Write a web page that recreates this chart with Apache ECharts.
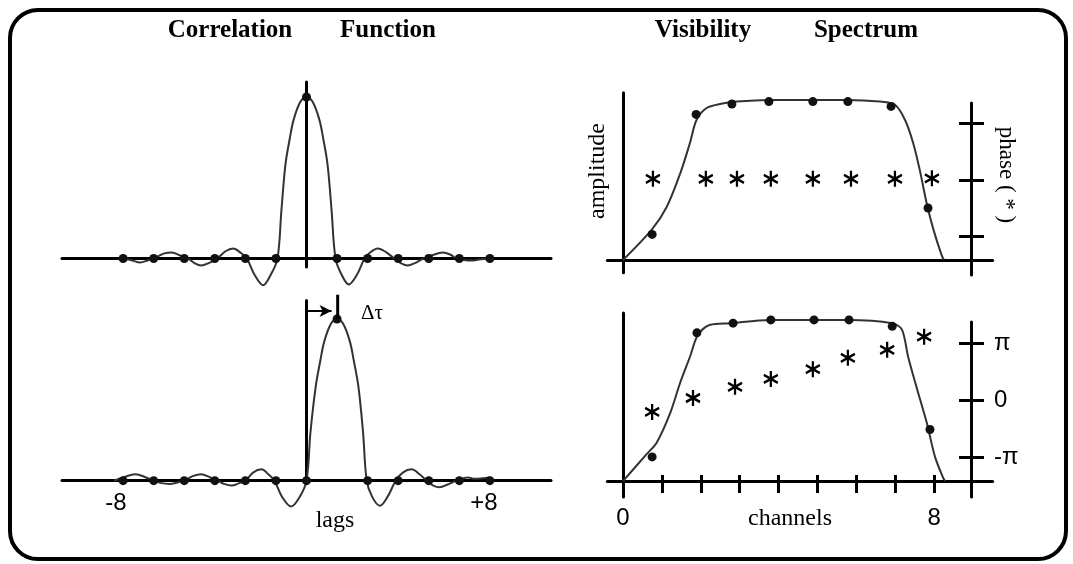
<!DOCTYPE html>
<html><head><meta charset="utf-8">
<script src="https://cdn.jsdelivr.net/npm/echarts@6/dist/echarts.min.js"></script>
<style>html,body{margin:0;padding:0;background:#fff}#c{width:1073px;height:564px}</style>
</head><body><div id="c"></div>
<script>
// ---- Correlation function (top: centred, bottom: delayed by one lag) ----
const topLags = [-6.0,-5.7,-5.45,-5.2,-4.9,-4.65,-4.4,-4.15,-3.87,-3.65,-3.45,-3.2,-2.92,-2.65,-2.4,-2.15,-1.95,-1.7,-1.42,-1.17,-0.95,-0.82,-0.69,-0.55,-0.42,-0.2,0,0.2,0.42,0.55,0.69,0.82,0.95,1.15,1.38,1.65,1.9,2.1,2.33,2.6,2.87,3.1,3.31,3.55,3.83,4.1,4.46,4.7,4.92,5.2,5.45,5.7,6.0];
const topCorr = [0,-0.012,-0.025,-0.012,0.01,0.032,0.037,0.02,0,-0.03,-0.043,-0.028,0,0.045,0.062,0.035,0,-0.1,-0.165,-0.1,0,0.3,0.58,0.74,0.86,0.97,1,0.97,0.86,0.74,0.58,0.3,0,-0.1,-0.16,-0.1,0,0.04,0.062,0.04,0,-0.03,-0.043,-0.028,0,0.02,0.037,0.025,0,-0.01,-0.012,-0.005,0];
const botLags = [-6.3,-6.0,-5.6,-5.25,-5.0,-4.75,-4.5,-4.2,-3.95,-3.7,-3.45,-3.15,-2.9,-2.7,-2.45,-2.2,-2.0,-1.75,-1.47,-1.25,-1.05,-0.8,-0.5,-0.22,0,0.13,0.3,0.45,0.58,0.8,1.0,1.2,1.42,1.55,1.7,1.85,1.97,2.15,2.4,2.65,2.92,3.15,3.44,3.7,3.93,4.15,4.36,4.6,4.9,5.05,5.28,5.5,5.75,6.0];
const botCorr = [0,0.02,0.04,0.02,0,-0.015,-0.02,-0.01,0.005,0.03,0.04,0.02,0,-0.02,-0.03,-0.015,0,0.05,0.07,0.04,0,-0.1,-0.16,-0.1,0,0.3,0.58,0.74,0.86,0.97,1.0,0.97,0.86,0.74,0.58,0.3,0,-0.1,-0.155,-0.1,0,0.05,0.07,0.04,0,-0.03,-0.04,-0.025,0,0.01,0.02,0.012,0.015,0.02];
const sampleLags = [-6,-5,-4,-3,-2,-1,0,1,2,3,4,5,6];
const topSamples = [0,0,0,0,0,0,1,0,0,0,0,0,0];
const botSamples = [0,0,0,0,0,0,0,1,0,0,0,0,0];
const delayArrowLags = [0, 0.82];
const delayArrowLevel = 1.05;
const delayTickLag = 1.02;
const delayTickRange = [1.0, 1.15];
const lagEndLabels = ['-8', '+8'];

// ---- Visibility spectrum (amplitude and phase in units of pi) ----
const ampChTop = [0,0.74,1.12,1.47,1.72,1.89,2.15,2.49,2.92,3.78,4.88,5.75,6.6,6.99,7.25,7.46,7.63,7.81,7.98,8.19,8.25];
const ampTop   = [0,0.19,0.33,0.54,0.73,0.875,0.95,0.975,0.99,1.0,1.0,1.0,0.99,0.97,0.875,0.73,0.56,0.35,0.19,0.03,0];
const ampChBot = [0,0.62,0.87,1.21,1.47,1.72,1.93,2.24,2.75,3.78,4.94,5.76,6.92,7.17,7.33,7.56,7.81,8.02,8.23,8.28];
const ampBot   = [0,0.17,0.24,0.42,0.61,0.77,0.91,0.97,0.98,1.0,1.0,1.0,0.98,0.94,0.77,0.57,0.36,0.15,0.02,0];
const dotChTop  = [0.75,1.88,2.80,3.75,4.88,5.78,6.89,7.84];
const dotAmpTop = [0.16,0.91,0.975,0.99,0.99,0.99,0.96,0.325];
const dotChBot  = [0.75,1.90,2.83,3.80,4.91,5.81,6.92,7.89];
const dotAmpBot = [0.15,0.92,0.98,1.0,1.0,1.0,0.96,0.32];
const starChTop    = [0.77,2.13,2.93,3.80,4.88,5.86,6.99,7.94];
const phaseTop     = [0.02,0.02,0.02,0.02,0.02,0.02,0.02,0.03];
const starChBot    = [0.75,1.80,2.88,3.80,4.88,5.78,6.79,7.74];
const phaseBot     = [-0.21,0.035,0.23,0.37,0.54,0.74,0.88,1.11];
const channelTicks = [1,2,3,4,5,6,7,8];
const channelLabelValues = [0, 8];
const phaseTicks = [-1, 0, 1];
const phaseTickLabels = ['-π', '0', 'π'];

const zip = (a, b) => a.map((v, i) => [v, b[i]]);
const ink = '#000';
const curveStyle = {color: '#333', width: 2};
const dotStyle = {color: '#111', opacity: 1};
const starStyle = {color: 'rgba(0,0,0,0)', borderColor: '#000', borderWidth: 2.4, opacity: 1};
const starPath = 'path://M0,-10L0,10M-8.66,-5L8.66,5M-8.66,5L8.66,-5';
const noDeco = {axisTick: {show: false}, axisLabel: {show: false}, splitLine: {show: false}};
const heavy = {color: ink, width: 3};

const chart = echarts.init(document.getElementById('c'), null, {renderer: 'canvas'});
const serif = '"Liberation Serif", "DejaVu Serif", serif';
const sans = '"Liberation Sans", Arial, sans-serif';
const txt = (text, x, y, font, rot) => ({type: 'text', x, y, rotation: rot || 0, silent: true,
  style: {text, font, fill: ink, align: 'center', verticalAlign: 'middle'}});

chart.setOption({
  animation: false,
  backgroundColor: '#fff',
  grid: [
    {left: 62, top: 82, width: 489, height: 185.1},
    {left: 62, top: 300.4, width: 489, height: 181.1},
    {left: 607.4, top: 92.8, width: 385.2, height: 180},
    {left: 607.4, top: 313, width: 385.2, height: 184},
    {left: 971, top: 103, width: 1, height: 172},
    {left: 971, top: 322, width: 1, height: 175}
  ],
  xAxis: [
    {gridIndex: 0, type: 'value', min: -8, max: 8, axisLine: {show: true, onZero: true, lineStyle: heavy}, ...noDeco},
    {gridIndex: 1, type: 'value', min: -8, max: 8, axisLine: {show: true, onZero: true, lineStyle: heavy}, ...noDeco},
    {gridIndex: 2, type: 'value', min: -0.4, max: 9.5, axisLine: {show: true, onZero: true, lineStyle: heavy}, ...noDeco},
    {gridIndex: 3, type: 'value', min: -0.4, max: 9.5, position: 'bottom',
      axisLine: {show: true, onZero: true, lineStyle: heavy},
      axisTick: {show: true, customValues: channelTicks, length: 12, lineStyle: heavy},
      axisLabel: {show: true, customValues: channelLabelValues, margin: 9, fontSize: 24, fontFamily: sans, color: ink},
      splitLine: {show: false}},
    {gridIndex: 3, type: 'value', min: -0.4, max: 9.5, position: 'top', offset: -168,
      axisLine: {show: false, onZero: false},
      axisTick: {show: true, customValues: channelTicks, length: 6, lineStyle: heavy},
      axisLabel: {show: false}, splitLine: {show: false}},
    {gridIndex: 4, type: 'value', min: 0, max: 1, show: false},
    {gridIndex: 5, type: 'value', min: 0, max: 1, show: false}
  ],
  yAxis: [
    {gridIndex: 0, type: 'value', min: -0.053, max: 1.093, axisLine: {show: true, onZero: true, lineStyle: heavy}, ...noDeco},
    {gridIndex: 1, type: 'value', min: -0.005, max: 1.115, axisLine: {show: true, onZero: true, lineStyle: heavy}, ...noDeco},
    {gridIndex: 2, type: 'value', min: -0.08, max: 1.045, axisLine: {show: true, onZero: true, lineStyle: heavy}, ...noDeco},
    {gridIndex: 2, type: 'value', min: -1.642, max: 1.543, position: 'right', show: false},
    {gridIndex: 3, type: 'value', min: -0.099, max: 1.043, axisLine: {show: true, onZero: true, lineStyle: heavy}, ...noDeco},
    {gridIndex: 3, type: 'value', min: -1.7006, max: 1.525, position: 'right', show: false},
    {gridIndex: 4, type: 'value', min: -1.681, max: 1.363, position: 'left',
      axisLine: {show: true, onZero: false, lineStyle: heavy},
      axisTick: {show: true, customValues: phaseTicks, length: 12, lineStyle: heavy},
      axisLabel: {show: false}, splitLine: {show: false}},
    {gridIndex: 4, type: 'value', min: -1.681, max: 1.363, position: 'right',
      axisLine: {show: false, onZero: false},
      axisTick: {show: true, customValues: phaseTicks, length: 12, lineStyle: heavy},
      axisLabel: {show: false}, splitLine: {show: false}},
    {gridIndex: 5, type: 'value', min: -1.70, max: 1.368, position: 'left',
      axisLine: {show: true, onZero: false, lineStyle: heavy},
      axisTick: {show: true, customValues: phaseTicks, length: 12, lineStyle: heavy},
      axisLabel: {show: false}, splitLine: {show: false}},
    {gridIndex: 5, type: 'value', min: -1.70, max: 1.368, position: 'right',
      axisLine: {show: false, onZero: false},
      axisTick: {show: true, customValues: phaseTicks, length: 12, lineStyle: heavy},
      axisLabel: {show: true, customValues: phaseTicks, margin: 22, fontSize: 24, fontFamily: sans, color: ink, align: 'left',
        formatter: v => phaseTickLabels[phaseTicks.indexOf(Math.round(v))]},
      splitLine: {show: false}}
  ],
  series: [
    {type: 'line', xAxisIndex: 0, yAxisIndex: 0, data: zip(topLags, topCorr), smooth: 0.35, showSymbol: false, clip: false, lineStyle: curveStyle, z: 2},
    {type: 'scatter', xAxisIndex: 0, yAxisIndex: 0, data: zip(sampleLags, topSamples), symbolSize: 9, itemStyle: dotStyle, clip: false, z: 3},
    {type: 'line', xAxisIndex: 1, yAxisIndex: 1, data: zip(botLags, botCorr), smooth: 0.35, showSymbol: false, clip: false, lineStyle: curveStyle, z: 2},
    {type: 'scatter', xAxisIndex: 1, yAxisIndex: 1, data: zip(sampleLags, botSamples), symbolSize: 9, itemStyle: dotStyle, clip: false, z: 3},
    {type: 'line', xAxisIndex: 1, yAxisIndex: 1, data: delayTickRange.map(v => [delayTickLag, v]), showSymbol: false, clip: false,
      lineStyle: {color: ink, width: 3}, z: 4,
      markLine: {silent: true, symbol: ['none', 'arrow'], symbolSize: [9, 12], label: {show: false},
        lineStyle: {color: ink, width: 2, type: 'solid'},
        data: [[{coord: [delayArrowLags[0], delayArrowLevel]}, {coord: [delayArrowLags[1], delayArrowLevel]}]]}},
    {type: 'line', xAxisIndex: 2, yAxisIndex: 2, data: zip(ampChTop, ampTop), smooth: 0.3, showSymbol: false, clip: false, lineStyle: curveStyle, z: 2},
    {type: 'scatter', xAxisIndex: 2, yAxisIndex: 2, data: zip(dotChTop, dotAmpTop), symbolSize: 9, itemStyle: dotStyle, z: 3},
    {type: 'scatter', xAxisIndex: 2, yAxisIndex: 3, data: zip(starChTop, phaseTop), symbol: starPath,
      symbolSize: [14, 16], itemStyle: starStyle, z: 3},
    {type: 'line', xAxisIndex: 3, yAxisIndex: 4, data: zip(ampChBot, ampBot), smooth: 0.3, showSymbol: false, clip: false, lineStyle: curveStyle, z: 2},
    {type: 'scatter', xAxisIndex: 3, yAxisIndex: 4, data: zip(dotChBot, dotAmpBot), symbolSize: 9, itemStyle: dotStyle, z: 3},
    {type: 'scatter', xAxisIndex: 3, yAxisIndex: 5, data: zip(starChBot, phaseBot), symbol: starPath,
      symbolSize: [14, 16], itemStyle: starStyle, z: 3}
  ],
  graphic: [
    {type: 'rect', silent: true, shape: {x: 10, y: 10, width: 1056, height: 549, r: 28}, style: {fill: 'none', stroke: ink, lineWidth: 4}},
    txt('Correlation', 230, 31, 'bold 25px ' + serif),
    txt('Function', 388, 31, 'bold 25px ' + serif),
    txt('Visibility', 703, 31, 'bold 25px ' + serif),
    txt('Spectrum', 866, 31, 'bold 25px ' + serif),
    txt('amplitude', 598, 171, '24px ' + serif, Math.PI / 2),
    txt('phase ( * )', 1006, 175, '23px ' + serif, -Math.PI / 2),
    txt(lagEndLabels[0], 116, 503, '24px ' + sans),
    txt(lagEndLabels[1], 484, 503, '24px ' + sans),
    txt('lags', 335, 521, '24px ' + serif),
    txt('channels', 790, 519, '24px ' + serif),
    txt('Δτ', 372, 313, '21px ' + serif)
  ]
});
</script>
</body></html>
